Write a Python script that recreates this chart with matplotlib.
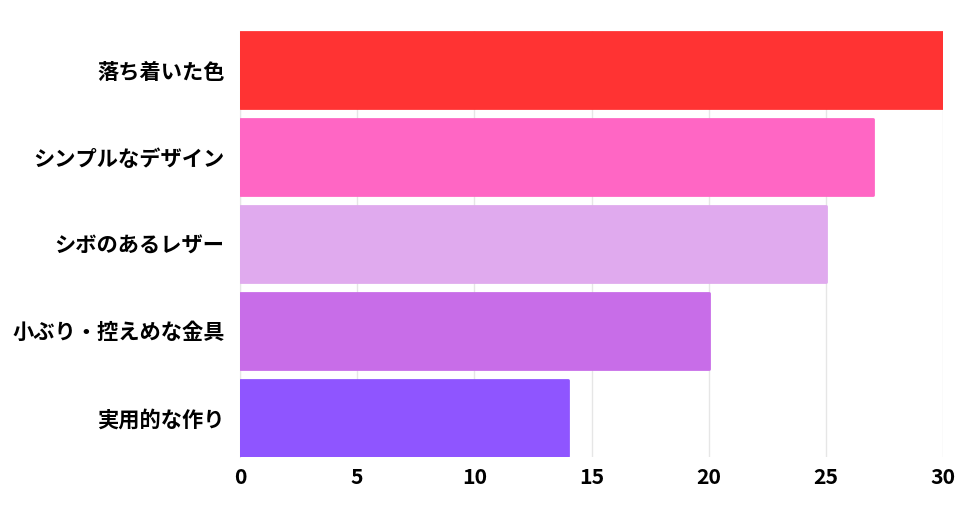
import matplotlib
matplotlib.use('Agg')
import matplotlib.pyplot as plt

plt.rcParams['font.family'] = ['Noto Sans CJK JP', 'DejaVu Sans']

# データ
categories = ['落ち着いた色', 'シンプルなデザイン', 'シボのあるレザー', '小ぶり・控えめな金具', '実用的な作り']
values = [30, 27, 25, 20, 14]
colors = ['#ff3333', '#ff66c4', '#e0aaee', '#c86de8', '#8f55ff']
xticks = [0, 5, 10, 15, 20, 25, 30]

fig = plt.figure(figsize=(9.71, 5.16), dpi=100)
ax = fig.add_axes([240/971, 59/516, 703/971, 426/516])

ypos = list(range(len(categories)))
bars = ax.barh(ypos, values, height=0.88, color=colors, zorder=3)
# 右端の角を少し丸く (左端は軸でクリップされる)
for b, c in zip(bars, colors):
    b.set_edgecolor(c)
    b.set_linewidth(2)
    b.set_joinstyle('round')

ax.set_xlim(0, 30)
ax.set_ylim(len(categories) - 0.55, -0.45)
ax.set_xticks(xticks)
ax.set_yticks(ypos)
ax.set_yticklabels(categories, fontsize=15.3, fontweight='bold')
ax.set_xticklabels([str(t) for t in xticks], fontsize=15.3, fontweight='bold')
ax.tick_params(axis='y', length=0, pad=11)
ax.tick_params(axis='x', length=0, pad=7.5)

ax.grid(axis='x', color='#e6e6e6', linewidth=1, zorder=0)
for s in ['top', 'right', 'bottom']:
    ax.spines[s].set_visible(False)
ax.spines['left'].set_color('#e6e6e6')

fig.savefig('out.png', dpi=100)
